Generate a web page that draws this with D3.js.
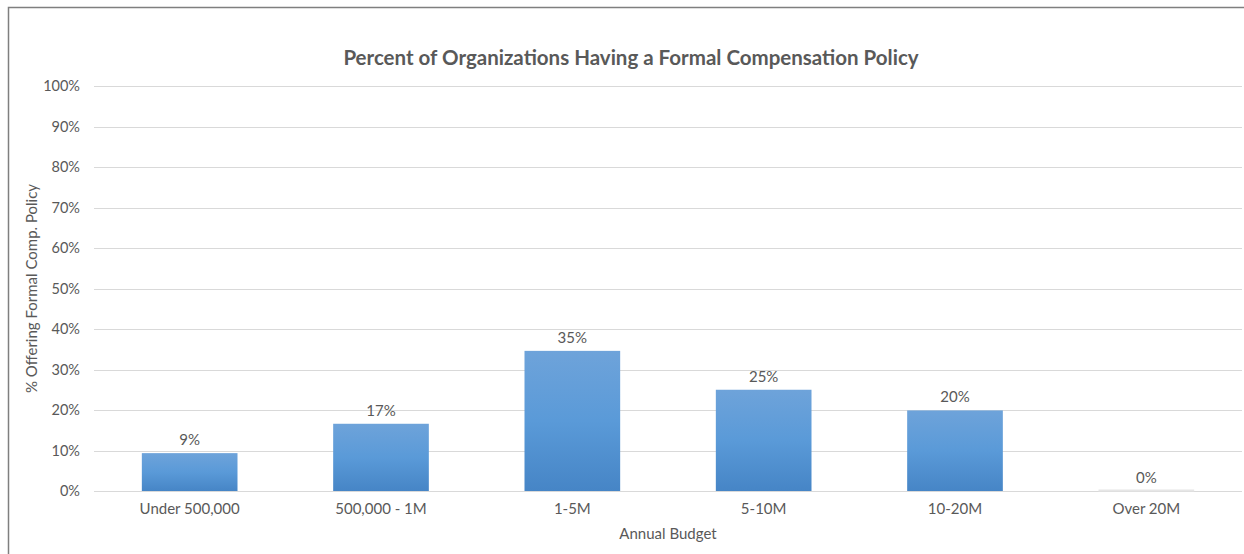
<!DOCTYPE html>
<html>
<head>
<meta charset="utf-8">
<script src="https://cdn.jsdelivr.net/npm/d3@7"></script>
<style>
  html, body { margin: 0; padding: 0; background: #fff; }
  svg { display: block; }
  text { font-family: Lato, "Open Sans", sans-serif; fill: #595959; }
</style>
</head>
<body>
<svg id="chart" width="1244" height="554"></svg>
<script>
const categories = ["Under 500,000", "500,000 - 1M", "1-5M", "5-10M", "10-20M", "Over 20M"];
const values = [9.35, 16.6, 34.6, 25.0, 19.9, 0];
const valueLabels = ["9%", "17%", "35%", "25%", "20%", "0%"];
const yTicks = [0, 10, 20, 30, 40, 50, 60, 70, 80, 90, 100];
const title = "Percent of Organizations Having a Formal Compensation Policy";
const xTitle = "Annual Budget";
const yTitle = "% Offering Formal Comp. Policy";

const svg = d3.select("#chart");
const W = 1244, H = 554;
const plot = { left: 94, right: 1242, top: 86, bottom: 491 };
const FONT = "Lato, 'Open Sans', sans-serif";

// chart border (top & left visible)
svg.append("rect").attr("x", 8.5).attr("y", 7.5).attr("width", W + 10).attr("height", H + 10)
  .attr("fill", "#fff").attr("stroke", "#7f7f7f").attr("stroke-width", 1.5);

const defs = svg.append("defs");
const grad = defs.append("linearGradient").attr("id", "barGrad")
  .attr("x1", 0).attr("y1", 0).attr("x2", 0).attr("y2", 1);
grad.append("stop").attr("offset", "0%").attr("stop-color", "#6ea3da");
grad.append("stop").attr("offset", "50%").attr("stop-color", "#5a9ad8");
grad.append("stop").attr("offset", "100%").attr("stop-color", "#4685c6");

const x = d3.scaleBand().domain(categories).range([plot.left, plot.right]).paddingInner(0.5).paddingOuter(0.25);
const y = d3.scaleLinear().domain([0, 100]).range([plot.bottom, plot.top]);

// gridlines
svg.append("g").selectAll("line").data(yTicks).join("line")
  .attr("x1", plot.left).attr("x2", plot.right)
  .attr("y1", d => Math.round(y(d)) + 0.5).attr("y2", d => Math.round(y(d)) + 0.5)
  .attr("stroke", "#d9d9d9").attr("stroke-width", 1);

// y axis
const yAxis = svg.append("g").attr("transform", `translate(${plot.left},0)`)
  .call(d3.axisLeft(y).tickValues(yTicks).tickFormat(d => d + "%").tickSize(0).tickPadding(14));
yAxis.select(".domain").remove();
yAxis.selectAll("text").style("font-size", "14.5px").style("fill", "#595959").style("font-family", FONT);

// x axis
const xAxis = svg.append("g").attr("transform", `translate(0,${plot.bottom})`)
  .call(d3.axisBottom(x).tickSize(0).tickPadding(12));
xAxis.select(".domain").remove();
xAxis.selectAll("text").style("font-size", "15px").style("fill", "#595959").style("font-family", FONT);

// bars
svg.append("g").selectAll("rect").data(values).join("rect")
  .attr("x", (d, i) => x(categories[i]))
  .attr("width", x.bandwidth())
  .attr("y", d => y(d))
  .attr("height", d => Math.max(0, y(0) - y(d)))
  .attr("fill", "url(#barGrad)");

// zero bar indicator
svg.append("g").selectAll("line").data(values.map((v, i) => ({ v, i })).filter(d => d.v === 0)).join("line")
  .attr("x1", d => x(categories[d.i])).attr("x2", d => x(categories[d.i]) + x.bandwidth())
  .attr("y1", y(0) - 0.5).attr("y2", y(0) - 0.5)
  .attr("stroke", "#e6e6e6").attr("stroke-width", 2);

// value labels
svg.append("g").selectAll("text").data(values).join("text")
  .attr("x", (d, i) => x(categories[i]) + x.bandwidth() / 2)
  .attr("y", d => y(d) - 8)
  .attr("text-anchor", "middle")
  .style("font-size", "15px")
  .text((d, i) => valueLabels[i]);

// title
svg.append("text").attr("x", 631).attr("y", 65).attr("text-anchor", "middle")
  .style("font-size", "20.5px").style("font-weight", "bold")
  .text(title);

// axis titles
svg.append("text").attr("x", (plot.left + plot.right) / 2).attr("y", 539).attr("text-anchor", "middle")
  .style("font-size", "15px").text(xTitle);
svg.append("text").attr("transform", `translate(37,${(plot.top + plot.bottom) / 2}) rotate(-90)`)
  .attr("text-anchor", "middle").style("font-size", "15px").text(yTitle);
</script>
</body>
</html>
